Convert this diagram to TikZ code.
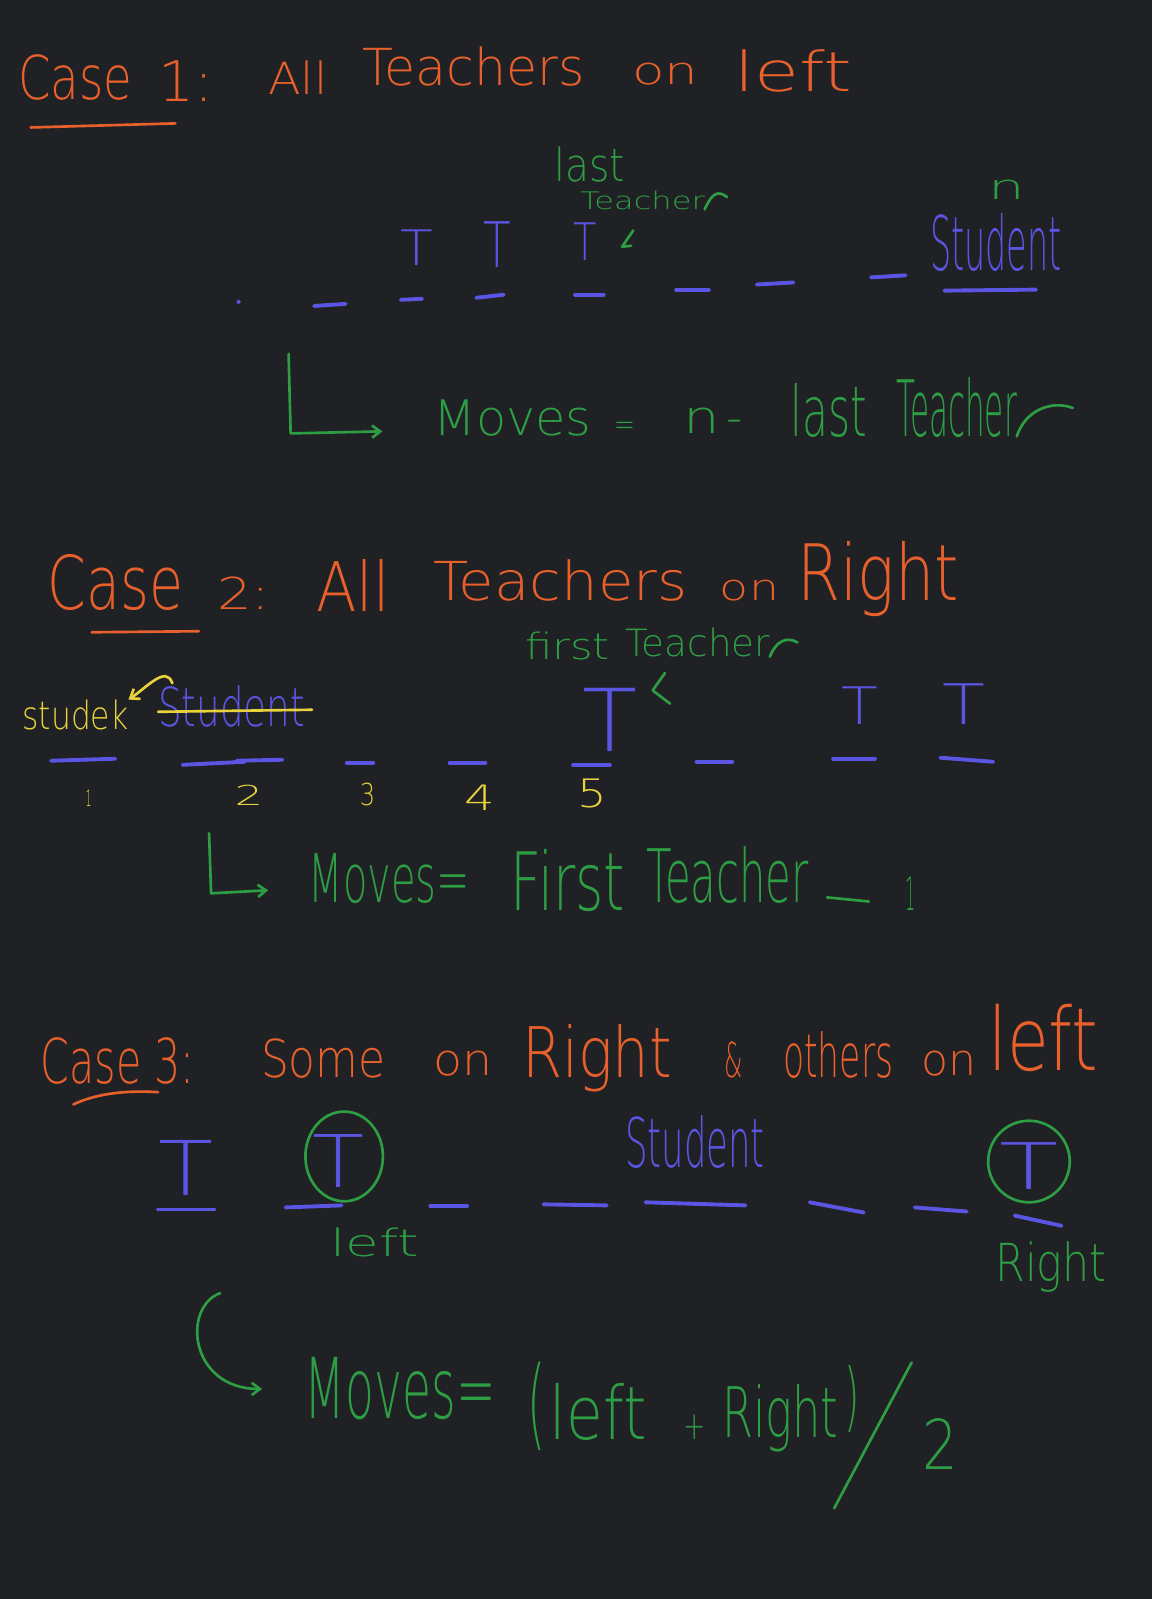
\documentclass[tikz,border=0pt]{standalone}
\usepackage{fontspec}
\setmainfont{DejaVu Sans ExtraLight}
\usepackage{graphicx}
\usetikzlibrary{arrows.meta}
\newlength\upx \setlength\upx{0.5pt}
\newcommand\hw[3]{\resizebox{#1\upx}{#2\upx}{#3}}
\definecolor{bgc}{HTML}{202124}
\definecolor{org}{HTML}{E8612C}
\definecolor{grn}{HTML}{2E9E45}
\definecolor{blu}{HTML}{5B55E3}
\definecolor{ylw}{HTML}{E8D33C}
\tikzset{
  wd/.style={inner sep=0pt, outer sep=0pt, anchor=base west, font=\fontsize{22}{22}\selectfont},
  sm/.style={font=\fontsize{14}{14}\selectfont},
  ot/.style={wd, text=org},
  gt/.style={wd, text=grn},
  bt/.style={wd, text=blu},
  yt/.style={wd, text=ylw},
  pen/.style={line width=1.3pt, line cap=round, line join=round},
  gpen/.style={pen, draw=grn},
  open/.style={pen, draw=org},
  ypen/.style={pen, draw=ylw},
  bdash/.style={pen, draw=blu, line width=1.9pt},
  tip/.style={-{Straight Barb[length=4pt,width=6pt]}}
}
\begin{document}
\begin{tikzpicture}[x=0.5pt,y=-0.5pt]
\fill[bgc] (0,0) rectangle (1130,1568);
\useasboundingbox (0,0) rectangle (1130,1568);

% ---------------- Case 1 ----------------
\node[ot] (c1case) at (18,98) {\hw{112}{44}{Case}};
\node[ot] (c1num) at (155,100) {\hw{54}{40}{1:}};
\node[ot] (c1all) at (263,93) {\hw{58}{33}{All}};
\node[ot] (c1teach) at (355,84) {\hw{218}{38}{Teachers}};
\node[ot] (c1on) at (620,83) {\hw{65}{21}{on}};
\node[ot] (c1left) at (720,90) {\hw{116}{41}{left}};
\coordinate (c1ua) at (30,125);
\coordinate (c1ub) at (172,121);
\draw[open] (c1ua) -- (c1ub);

\node[gt] (last) at (544,178) {\hw{69}{34}{last}};
\node[gt,sm] (lastT) at (569,205) {\hw{122}{18}{Teacher}};
\draw[gpen] (lastT.south east) .. controls +(8,-18) and +(-8,-6) .. +(22,-12);

\node[bt] (t1) at (393,260) {\hw{32}{35}{T}};
\node[bt] (t2) at (474,262) {\hw{27}{45}{T}};
\node[bt] (t3) at (562,255) {\hw{23}{37}{T}};
\coordinate (ar1a) at (621,226);
\coordinate (ar1b) at (610,242);
\coordinate (ar1c) at (619,241);
\draw[gpen] (ar1a) -- (ar1b) -- (ar1c);

\node[gt] (nn) at (969,196) {\hw{36}{19}{n}};
\node[bt] (stud1) at (912,265) {\hw{129}{56}{Student}};
\coordinate (su1a) at (926,285);
\coordinate (su1b) at (1016,284);
\draw[bdash] (su1a) -- (su1b);

\fill[blu] (234,296) circle (2);
\foreach \xa/\ya/\xb/\yb in {308/300/339/298, 393/294/414/293, 467/292/494/289,
  564/289/592/289, 663/284/695/284, 742/279/778/277, 854/272/888/270}
  \draw[bdash] (\xa,\ya) -- (\xb,\yb);

\coordinate (l1a) at (283,347);
\coordinate (l1b) at (285,425);
\coordinate (l1c) at (375,423);
\draw[gpen,tip] (l1a) -- (l1b) -- (l1c);

\node[gt] (mv1) at (425,427) {\hw{155}{35}{Moves}};
\node[gt] (eq1) at (602,427) {\hw{21}{13}{=}};
\node[gt] (n2) at (670,425) {\hw{36}{25}{n}};
\node[gt] (mi1) at (712,425) {\hw{16}{13}{-}};
\node[gt] (last2) at (775,428) {\hw{75}{52}{last}};
\node[gt] (teach2) at (879,428) {\hw{118}{58}{Teacher}};
\draw[gpen] (teach2.base east) .. controls +(8,-25) and +(-22,-8) .. +(55,-28);

% ---------------- Case 2 ----------------
\node[ot] (c2case) at (47,598) {\hw{133}{54}{Case}};
\node[ot] (c2num) at (213,598) {\hw{52}{32}{2:}};
\node[ot] (c2all) at (310,600) {\hw{72}{51}{All}};
\node[ot] (c2teach) at (425,589) {\hw{249}{40}{Teachers}};
\node[ot] (c2on) at (706,589) {\hw{58}{20}{on}};
\node[ot] (c2right) at (782,589) {\hw{158}{58}{Right}};
\coordinate (c2ua) at (90,620);
\coordinate (c2ub) at (195,619);
\draw[open] (c2ua) -- (c2ub);

\node[gt] (first) at (515,647) {\hw{83}{27}{first}};
\node[gt] (teach3) at (613,644) {\hw{142}{28}{Teacher}};
\draw[gpen] (teach3.base east) .. controls +(6,-16) and +(-10,-6) .. +(27,-14);
\coordinate (ar2a) at (652,660);
\coordinate (ar2b) at (640,677);
\coordinate (ar2c) at (657,690);
\draw[gpen] (ar2a) -- (ar2b) -- (ar2c);

\node[yt,sm] (studek) at (22,715) {\hw{104}{29}{studek}};
\node[bt] (stud2) at (155,712) {\hw{144}{40}{Student}};
\coordinate (st2a) at (155,698);
\coordinate (st2b) at (306,696);
\draw[ypen] (st2a) -- (st2b);
\draw[ypen,tip] (stud2.north west) ++(14,-2) .. controls +(-6,-18) and +(18,-12) .. (studek.north east);

\node[bt] (t5) at (571,737) {\hw{54}{62}{T}};
\node[bt] (t6) at (825,710) {\hw{36}{37}{T}};
\node[bt] (t7) at (924,710) {\hw{42}{40}{T}};

\foreach \xa/\ya/\xb/\yb in {50/746/113/744, 179/750/240/747, 232/746/277/745,
  340/748/366/748, 441/748/476/748, 562/750/598/750, 683/747/718/747,
  817/744/858/744, 922/743/974/747}
  \draw[bdash] (\xa,\ya) -- (\xb,\yb);

\node[yt,sm] (num1) at (84,791) {\hw{6}{16}{1}};
\node[yt,sm] (num2) at (230,790) {\hw{28}{20}{2}};
\node[yt,sm] (num3) at (353,790) {\hw{15}{22}{3}};
\node[yt,sm] (num4) at (455,795) {\hw{30}{25}{4}};
\node[yt,sm] (num5) at (566,792) {\hw{29}{28}{5}};

\coordinate (l2a) at (205,817);
\coordinate (l2b) at (207,876);
\coordinate (l2c) at (263,873);
\draw[gpen,tip] (l2a) -- (l2b) -- (l2c);

\node[gt] (mv2) at (303,885) {\hw{158}{48}{Moves=}};
\node[gt] (first2) at (501,893) {\hw{112}{60}{First}};
\node[gt] (teach4) at (634,885) {\hw{159}{55}{Teacher}};
\coordinate (m2a) at (811,880);
\coordinate (m2b) at (852,884);
\draw[gpen] (m2a) -- (m2b);
\node[gt] (one2) at (888,893) {\hw{10}{33}{1}};

% ---------------- Case 3 ----------------
\node[ot] (c3case) at (40,1062) {\hw{151}{45}{Case 3:}};
\node[ot] (c3some) at (256,1057) {\hw{122}{38}{Some}};
\node[ot] (c3on) at (425,1055) {\hw{58}{24}{on}};
\node[ot] (c3right) at (512,1057) {\hw{147}{52}{Right}};
\node[ot] (c3amp) at (710,1057) {\hw{18}{35}{\&}};
\node[ot] (c3others) at (768,1057) {\hw{108}{45}{others}};
\node[ot] (c3on2) at (904,1055) {\hw{54}{24}{on}};
\node[ot] (c3left) at (969,1050) {\hw{108}{65}{left}};
\coordinate (c3ua) at (72,1083);
\coordinate (c3ub) at (155,1071);
\draw[open] (c3ua) .. controls (95,1072) and (125,1069) .. (c3ub);

\node[bt] (t8) at (155,1172) {\hw{54}{54}{T}};
\node[bt] (t9) at (306,1164) {\hw{51}{52}{T}};
\draw[gpen] (t9.center) ++(6,-4) ellipse [x radius=38, y radius=44];
\node[bt] (t10) at (980,1166) {\hw{58}{46}{T}};
\draw[gpen] (t10.center) ++(0,-4) ellipse [x radius=40, y radius=40];
\node[bt] (stud3) at (613,1145) {\hw{137}{51}{Student}};

\foreach \xa/\ya/\xb/\yb in {155/1186/210/1186, 280/1184/335/1182, 422/1183/458/1183,
  533/1181/595/1182, 633/1179/731/1182, 794/1179/847/1189, 897/1184/948/1188,
  995/1192/1041/1202}
  \draw[bdash] (\xa,\ya) -- (\xb,\yb);

\node[gt] (left3) at (324,1232) {\hw{87}{28}{left}};
\node[gt] (right3) at (976,1257) {\hw{109}{39}{Right}};

\coordinate (h3a) at (216,1268);
\coordinate (h3b) at (257,1362);
\draw[gpen,tip] (h3a) .. controls (178,1282) and (186,1362) .. (h3b);

\node[gt] (mv3) at (299,1391) {\hw{187}{60}{Moves=}};
\node[gt] (lp) at (517,1410) {\hw{18}{74}{(}};
\node[gt] (left4) at (539,1412) {\hw{95}{55}{left}};
\node[gt] (plus) at (670,1412) {\hw{22}{24}{+}};
\node[gt] (right4) at (708,1410) {\hw{114}{52}{Right}};
\node[gt] (rp) at (828,1395) {\hw{15}{56}{)}};
\coordinate (sla) at (894,1336);
\coordinate (slb) at (818,1479);
\draw[gpen] (sla) -- (slb);
\node[gt] (two) at (905,1441) {\hw{35}{50}{2}};
\end{tikzpicture}
\end{document}
